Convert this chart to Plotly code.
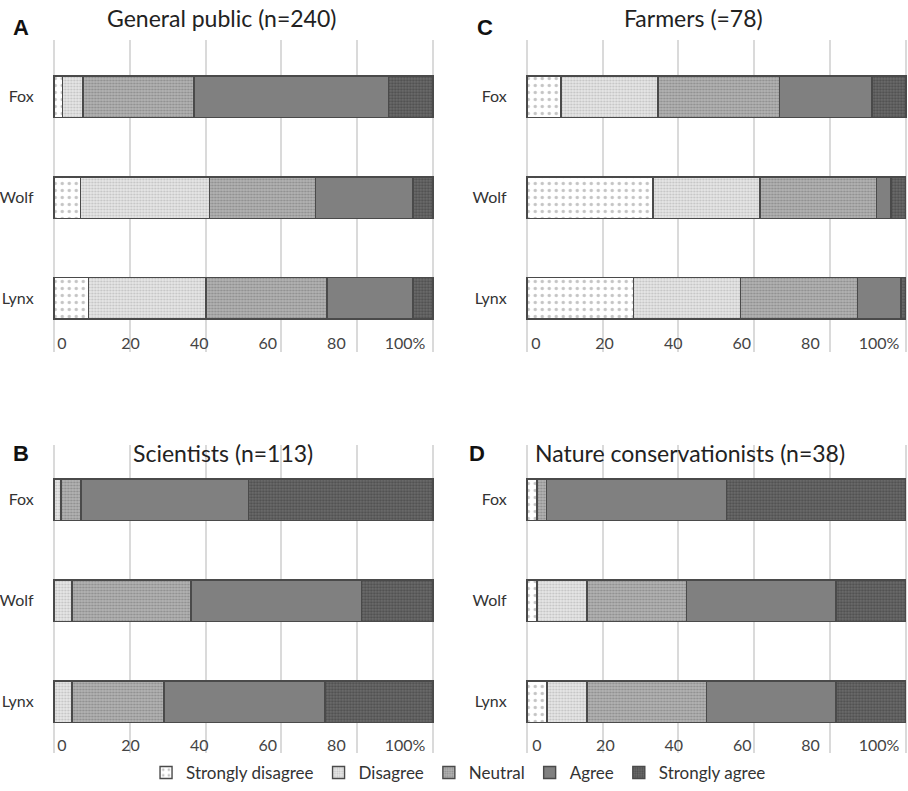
import plotly.graph_objects as go

# ---------------- data ----------------
animals = ["Fox", "Wolf", "Lynx"]
responses = ["Strongly disagree", "Disagree", "Neutral", "Agree", "Strongly agree"]
tick_vals = [0, 20, 40, 60, 80, 100]
tick_text = ["0", "20", "40", "60", "80", "100%"]

# percentages per response category, order: Fox, Wolf, Lynx
public_sd = [2.2, 7.0, 9.1]
public_d = [5.5, 34.1, 31.0]
public_n = [29.2, 27.9, 31.9]
public_a = [51.4, 25.7, 22.7]
public_sa = [11.7, 5.3, 5.3]

scientists_sd = [0.0, 0.0, 0.0]
scientists_d = [1.8, 4.8, 4.8]
scientists_n = [5.3, 31.3, 24.2]
scientists_a = [44.2, 45.1, 42.5]
scientists_sa = [48.7, 18.8, 28.5]

farmers_sd = [9.0, 33.3, 28.2]
farmers_d = [25.6, 28.2, 28.2]
farmers_n = [32.1, 30.8, 30.8]
farmers_a = [24.4, 3.8, 11.5]
farmers_sa = [9.0, 3.8, 1.3]

conserv_sd = [2.6, 2.6, 5.3]
conserv_d = [0.0, 13.2, 10.5]
conserv_n = [2.6, 26.3, 31.6]
conserv_a = [47.4, 39.5, 34.2]
conserv_sa = [47.4, 18.4, 18.4]

panel_titles = ["General public (n=240)", "Scientists (n=113)",
                "Farmers (=78)", "Nature conservationists (n=38)"]
panel_letters = ["A", "B", "C", "D"]

panels = [
    [public_sd, public_d, public_n, public_a, public_sa],
    [scientists_sd, scientists_d, scientists_n, scientists_a, scientists_sa],
    [farmers_sd, farmers_d, farmers_n, farmers_a, farmers_sa],
    [conserv_sd, conserv_d, conserv_n, conserv_a, conserv_sa],
]

# ---------------- styles ----------------
W, H = 908, 791
FONT = "Lato"
styles = [
    dict(color="white", pattern=dict(shape=".", bgcolor="white", fgcolor="#8a8a8a", size=7, solidity=0.18)),
    dict(color="#e0e0e0", pattern=dict(shape=".", bgcolor="#e6e6e6", fgcolor="#9c9c9c", size=3, solidity=0.35)),
    dict(color="#a8a8a8", pattern=dict(shape=".", bgcolor="#b4b4b4", fgcolor="#666666", size=3, solidity=0.42)),
    dict(color="#808080"),
    dict(color="#5e5e5e", pattern=dict(shape=".", bgcolor="#6c6c6c", fgcolor="#303030", size=3, solidity=0.45)),
]

# pixel layout of plot areas: (x0, x1, ytop, ybottom) for the 0..100 span
areas = [
    (54, 433, 40, 352),
    (54, 433, 445, 753),
    (527, 906, 40, 352),
    (527, 906, 445, 753),
]
yranges = [[2.53, -0.56], [2.51, -0.54], [2.53, -0.56], [2.51, -0.54]]
# separate label-only axes (the reference prints its tick labels on a slightly
# compressed scale): (x of "0", x of "100%", baseline y of label axis)
label_axes = [(62, 405, 332), (62, 405, 734), (536, 879, 332), (537, 879, 734)]
PAD = 0.6  # range padding so the 0 and 100 gridlines are drawn

fig = go.Figure()
layout = {}
for p, data in enumerate(panels):
    ax = "" if p == 0 else str(p + 1)
    for k, vals in enumerate(data):
        fig.add_trace(go.Bar(
            x=vals, y=animals, orientation="h", name=responses[k],
            marker=dict(line=dict(color="#4a4a4a", width=1.4), **styles[k]),
            xaxis="x" + ax, yaxis="y" + ax,
            showlegend=(p == 0), legendgroup=responses[k],
        ))
    x0, x1, yt, yb = areas[p]
    ppu = (x1 - x0) / 100.0
    layout["xaxis" + ax] = dict(
        domain=[(x0 - PAD * ppu) / W, min(1.0, (x1 + PAD * ppu) / W)], anchor="y" + ax,
        range=[-PAD, 100 + PAD],
        tickvals=tick_vals, showticklabels=False, showgrid=True,
        gridcolor="#dadada", gridwidth=1.5, zeroline=False, showline=False,
        ticks="", automargin=False,
    )
    layout["yaxis" + ax] = dict(
        domain=[1 - yb / H, 1 - yt / H], anchor="x" + ax, type="category",
        range=yranges[p], showgrid=False, zeroline=False, showline=False,
        ticks="", ticklabelstandoff=17, automargin=False,
        tickfont=dict(family=FONT, size=16, color="#333333"),
    )
    # label-only axis
    lax = str(p + 5)
    lx0, lx1, lyb = label_axes[p]
    fig.add_trace(go.Scatter(x=[], y=[], xaxis="x" + lax, yaxis="y" + lax,
                             showlegend=False, hoverinfo="skip"))
    layout["xaxis" + lax] = dict(
        domain=[lx0 / W, lx1 / W], anchor="y" + lax, range=[0, 100],
        tickvals=tick_vals, ticktext=tick_text, showgrid=False, zeroline=False,
        showline=False, ticks="", automargin=False, fixedrange=True,
        tickfont=dict(family=FONT, size=16, color="#444444"),
    )
    layout["yaxis" + lax] = dict(
        domain=[1 - lyb / H, 1 - (lyb - 10) / H], anchor="x" + lax, visible=False,
        fixedrange=True,
    )

annotations = []
title_pos = [(221, 18), (223, 453), (693, 18), (690, 453)]
letter_pos = [(21, 27), (21, 453), (485, 27), (477, 453)]
for p in range(4):
    tx, ty = title_pos[p]
    annotations.append(dict(text=panel_titles[p], x=tx / W, y=1 - ty / H, xref="paper", yref="paper",
                            showarrow=False, xanchor="center", yanchor="middle",
                            font=dict(family=FONT, size=23, color="#222222")))
    lx, ly = letter_pos[p]
    annotations.append(dict(text="<b>" + panel_letters[p] + "</b>", x=lx / W, y=1 - ly / H,
                            xref="paper", yref="paper", showarrow=False,
                            xanchor="center", yanchor="middle",
                            font=dict(family="Liberation Sans", size=22, color="#111111")))

fig.update_layout(
    width=W, height=H, margin=dict(l=0, r=0, t=0, b=0),
    paper_bgcolor="white", plot_bgcolor="rgba(0,0,0,0)",
    barmode="stack", bargap=0.59,
    annotations=annotations,
    legend=dict(orientation="h", x=0.505, xanchor="center", y=0, yanchor="bottom",
                font=dict(family=FONT, size=17, color="#333333"), itemwidth=30,
                traceorder="normal", bgcolor="rgba(0,0,0,0)"),
    **layout,
)

fig.write_html("out.html", config={"displayModeBar": False},
               post_script="document.body.style.margin='0';")
